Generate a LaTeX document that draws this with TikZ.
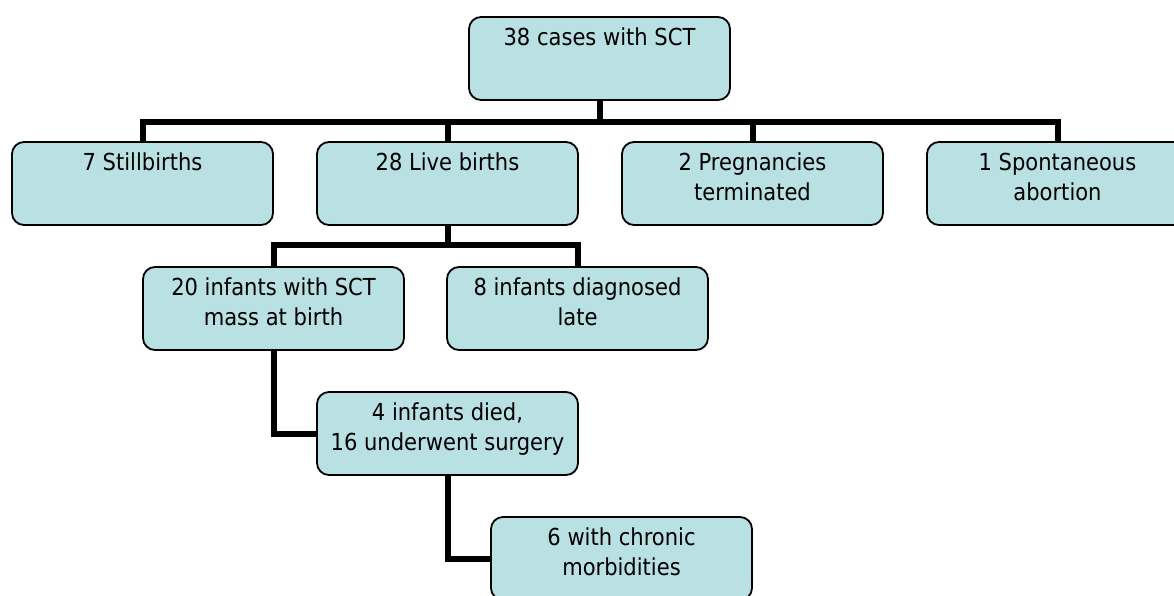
\documentclass[tikz,border=0pt]{standalone}
\usepackage{fontspec}
\setmainfont{DejaVu Sans Condensed}
\usetikzlibrary{backgrounds}
\definecolor{boxfill}{RGB}{185,224,227}
\begin{document}
\begin{tikzpicture}[x=1pt,y=-1pt,
  box/.style={draw=black, line width=1.8pt, fill=boxfill, rounded corners=12pt,
    minimum width=261pt, minimum height=83pt, inner sep=0pt},
  txt/.style={anchor=north, align=center, inner sep=0pt,
    font=\fontsize{23.4}{30}\selectfont},
  link/.style={draw=black, line width=6pt}]
\useasboundingbox (0,0) rectangle (1174,595);
\node[box] (top) at (599.5,58.5) {};
\node[txt] (ttop) at ([yshift=-11.5pt]top.north) {38 cases with SCT};
\node[box] (still) at (142.5,183.5) {};
\node[txt] (tstill) at ([yshift=-11.5pt]still.north) {7 Stillbirths};
\node[box] (live) at (447.5,183.5) {};
\node[txt] (tlive) at ([yshift=-11.5pt]live.north) {28 Live births};
\node[box] (preg) at (752.5,183.5) {};
\node[txt] (tpreg) at ([yshift=-11.5pt]preg.north) {2 Pregnancies\\terminated};
\node[box] (spont) at (1057.5,183.5) {};
\node[txt] (tspont) at ([yshift=-11.5pt]spont.north) {1 Spontaneous\\abortion};
\node[box] (inf) at (273.5,308.5) {};
\node[txt] (tinf) at ([yshift=-11.5pt]inf.north) {20 infants with SCT\\mass at birth};
\node[box] (late) at (577.5,308.5) {};
\node[txt] (tlate) at ([yshift=-11.5pt]late.north) {8 infants diagnosed\\late};
\node[box] (died) at (447.5,433.5) {};
\node[txt] (tdied) at ([yshift=-11.5pt]died.north) {4 infants died,\\16 underwent surgery};
\node[box] (chron) at (621.5,558.5) {};
\node[txt] (tchron) at ([yshift=-11.5pt]chron.north) {6 with chronic\\morbidities};
\coordinate (bar1) at (599.5,121.5);
\coordinate (bar2) at (447.5,245);
\begin{scope}[on background layer]
\draw[link] (top.south) -- (bar1);
\draw[link] (still.north) |- (bar1) -| (spont.north);
\draw[link] (live.north) -- (live.north |- bar1);
\draw[link] (preg.north) -- (preg.north |- bar1);
\draw[link] (live.south) -- (bar2);
\draw[link] (inf.north) |- (bar2) -| (late.north);
\draw[link] (inf.south) |- (died.west);
\draw[link] (died.south) |- (chron.west);
\end{scope}
\end{tikzpicture}
\end{document}
